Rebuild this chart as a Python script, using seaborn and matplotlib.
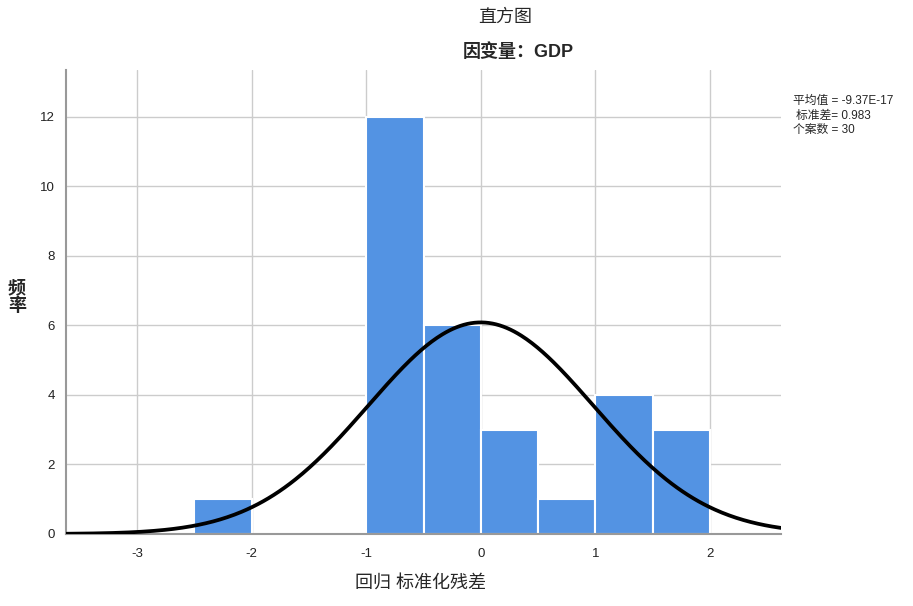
import numpy as np
import pandas as pd
import matplotlib
matplotlib.use("Agg")
import matplotlib.pyplot as plt
import seaborn as sns

# Data
bin_edges = [-2.5, -2.0, -1.5, -1.0, -0.5, 0.0, 0.5, 1.0, 1.5, 2.0]
bin_centers = [-2.25, -1.75, -1.25, -0.75, -0.25, 0.25, 0.75, 1.25, 1.75]
counts = [1, 0, 0, 12, 6, 3, 1, 4, 3]
mean_val = -9.37e-17
std_val = 0.983
n_cases = 30
x_ticks = [-3, -2, -1, 0, 1, 2]
y_ticks = [0, 2, 4, 6, 8, 10, 12]

sns.set_style("white")
plt.rcParams['font.family'] = ['Liberation Sans', 'Noto Sans CJK SC']

fig = plt.figure(figsize=(9.13, 6.06), dpi=100)
ax = fig.add_axes([66/913, 1-534/606, (781-66)/913, (534-70)/606])

df = pd.DataFrame({"x": bin_centers, "w": counts})
sns.histplot(data=df, x="x", weights="w", bins=bin_edges, ax=ax,
             color="#5393e3", alpha=1.0, edgecolor="white", linewidth=1.5, zorder=2)

# normal curve from stated stats
bw = 0.5
xs = np.linspace(-3.62, 2.62, 400)
ys = n_cases * bw / (std_val * np.sqrt(2*np.pi)) * np.exp(-0.5*((xs-mean_val)/std_val)**2)
sns.lineplot(x=xs, y=ys, ax=ax, color="black", linewidth=2.7, zorder=3)

ax.set_xlim(-3.62, 2.62)
ax.set_ylim(0, 13.35)
ax.set_xticks(x_ticks)
ax.set_xticklabels([str(t) for t in x_ticks])
ax.set_yticks(y_ticks)
ax.set_yticklabels([str(t) for t in y_ticks])
ax.tick_params(axis='both', length=0, labelsize=9.5, colors="#222222")
ax.tick_params(axis='x', pad=10)
ax.tick_params(axis='y', pad=8)
ax.grid(True, color="#cccccc", linewidth=1.0, zorder=0)
ax.set_axisbelow(True)
for s in ["top", "right"]:
    ax.spines[s].set_visible(False)
ax.spines["left"].set_color("#999999")
ax.spines["left"].set_linewidth(1.5)
ax.spines["bottom"].set_color("#999999")
ax.spines["bottom"].set_linewidth(1.5)
ax.set_xlabel("")
ax.set_ylabel("")

fig.text(505/913, 1-17/606, "直方图", ha="center", va="center", fontsize=13)
fig.text(518/913, 1-52/606, "因变量：GDP", ha="center", va="center", fontsize=13, fontweight="bold")
fig.text(17/913, 1-298/606, "频\n率", ha="center", va="center", fontsize=13, linespacing=1.0, fontweight="bold")
fig.text(420/913, 1-583/606, "回归 标准化残差", ha="center", va="center", fontsize=13)

fig.text(793/913, 1-101/606, "平均值 = -9.37E-17", ha="left", va="center", fontsize=8.5)
fig.text(796/913, 1-116/606, "标准差= 0.983", ha="left", va="center", fontsize=8.5)
fig.text(793/913, 1-130/606, "个案数 = 30", ha="left", va="center", fontsize=8.5)

fig.savefig("out.png", dpi=100)
